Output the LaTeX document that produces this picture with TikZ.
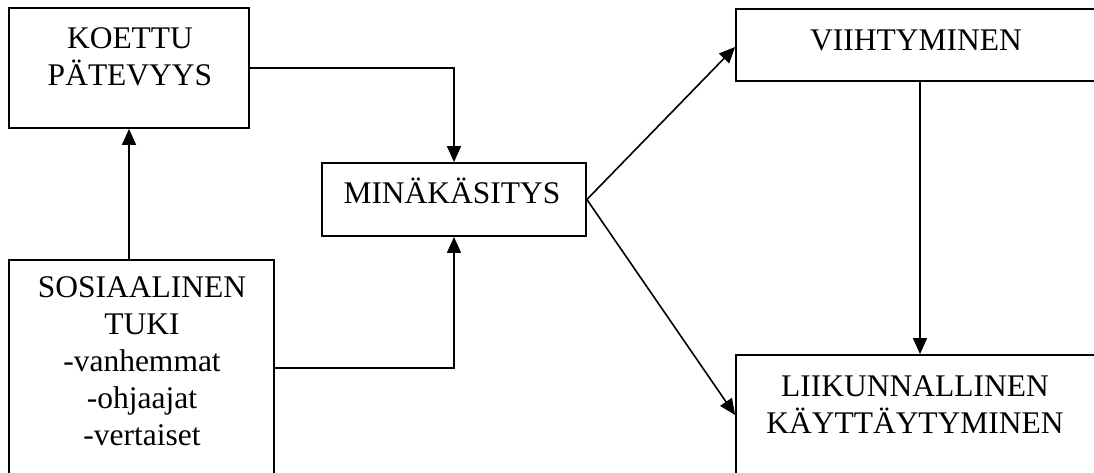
\documentclass[tikz,border=0pt]{standalone}
\usepackage{fontspec}
\setmainfont{Liberation Serif}
\usetikzlibrary{arrows.meta}
\begin{document}
\begin{tikzpicture}[x=1pt,y=-1pt,
  box/.style={draw,line width=1.8pt,rectangle,inner sep=0pt},
  txt/.style={anchor=base,align=center,inner sep=0pt,
    font=\fontsize{31.5}{37}\selectfont},
  conn/.style={line width=1.6pt,-{Triangle[length=16pt,width=14pt]}}]
\useasboundingbox (0,0) rectangle (1094,472);
\clip (0,0) rectangle (1094,472);

% boxes
\node[box,minimum width=240pt,minimum height=120pt] (k) at (129,68) {};
\node[box,minimum width=265pt,minimum height=216pt] (s) at (141.5,368) {};
\node[box,minimum width=264pt,minimum height=73pt] (m) at (454,199.5) {};
\node[box,minimum width=360pt,minimum height=72pt] (v) at (916,45) {};
\node[box,minimum width=360pt,minimum height=120pt] (l) at (916,415) {};

% box texts (anchored at the baseline of their last line)
\node[txt] (kt) at (130,85) {KOETTU\\PÄTEVYYS};
\node[txt] (st) at (142,445) {SOSIAALINEN\\TUKI\\-vanhemmat\\-ohjaajat\\-vertaiset};
\node[txt] (mt) at (452,203) {MINÄKÄSITYS};
\node[txt] (vt) at (916,50) {VIIHTYMINEN};
\node[txt] (lt) at (915,433) {LIIKUNNALLINEN\\KÄYTTÄYTYMINEN};

% connectors
\draw[conn] (k.east) -| (m.north);
\draw[conn] (s.east) -| (m.south);
\draw[conn] (k.south |- s.north) -- (k.south);
\draw[conn] (m.east) -- ([yshift=-2pt]v.west);
\draw[conn] (m.east) -- (l.west);
\draw[conn] ([xshift=4pt]v.south) -- ([xshift=4pt]l.north);
\end{tikzpicture}
\end{document}
